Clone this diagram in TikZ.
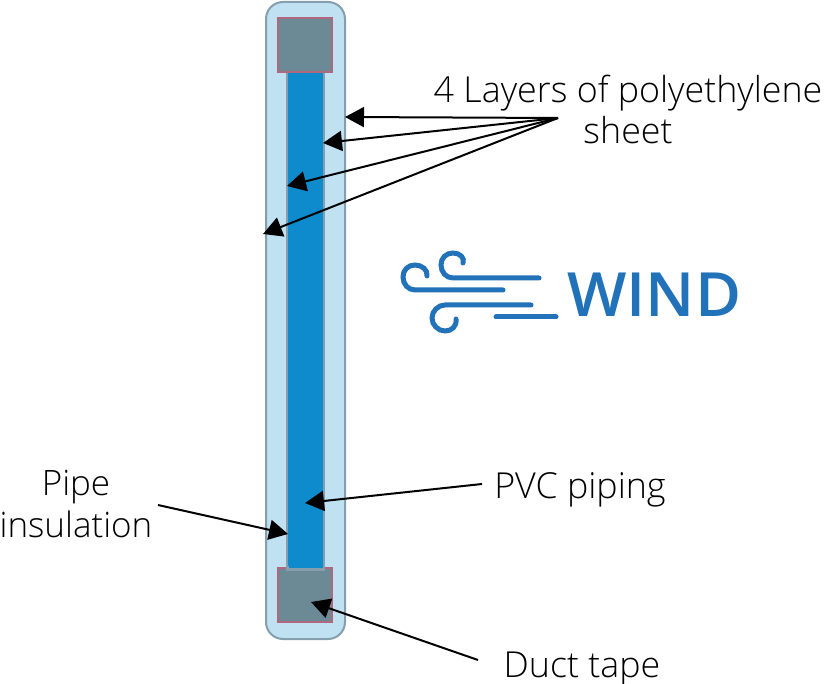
\documentclass[tikz,border=0pt]{standalone}
\usepackage{fontspec}
\setmainfont{Open Sans Light}
\usetikzlibrary{arrows.meta}
\definecolor{sheetfill}{HTML}{BFE1F2}
\definecolor{sheetline}{HTML}{859FAE}
\definecolor{pipefill}{HTML}{0D8BCD}
\definecolor{tapefill}{HTML}{6B8A96}
\definecolor{tapeline}{HTML}{B0687F}
\definecolor{windblue}{HTML}{2272B9}
\tikzset{
  sheet/.style={draw=sheetline,fill=sheetfill,line width=2pt,rounded corners=17pt},
  pipe/.style={draw=sheetline,fill=pipefill,line width=2.5pt},
  tape/.style={draw=tapeline,fill=tapefill,line width=2pt},
  lbl/.style={font=\fontsize{35.8}{41}\selectfont,text=black,inner sep=0pt,align=center},
  lblsmall/.style={font=\fontsize{35}{41}\selectfont,text=black,inner sep=0pt,align=center},
  pointer/.style={draw=black,line width=2pt,-{Triangle[length=19pt,width=20pt]}},
  gust/.style={draw=windblue,line width=5pt,line cap=round}
}
\begin{document}
\begin{tikzpicture}[x=1pt,y=-1pt]
\useasboundingbox (0,0) rectangle (828,684);
\draw[sheet] (266,2) rectangle (345,639);
\draw[pipe] (287,70) rectangle (324,570);
\draw[tape] (278,18) rectangle (332,72);
\draw[tape] (278,568) rectangle (332,622);
\fill[sheetline] (285.75,566) rectangle (325.25,571.25);
\fill[pipefill] (288.5,564) rectangle (322.5,568.5);
% logo
\draw[gust] (539,278) -- (453,278) .. controls (446,278) and (441,272) .. (441,265) .. controls (441,258) and (446,253) .. (453,253) .. controls (460,253) and (465,258) .. (463,263);
\draw[gust] (503,290) -- (415,290) .. controls (408,290) and (403,284) .. (403,277) .. controls (403,270) and (408,265) .. (415,265) .. controls (422,265) and (428,270) .. (427,276);
\draw[gust] (531,305) -- (445,305) .. controls (438,305) and (432,311) .. (432,318) .. controls (432,325) and (438,331) .. (445,331) .. controls (452,331) and (457,326) .. (456,319);
\draw[gust] (496,317) -- (556,317);
\node[font=\fontsize{61}{61}\selectfont\bfseries,text=windblue,inner sep=0pt,anchor=base west,xscale=1.03] (wind) at (567,317) {WIND};
% labels
\node[lbl,anchor=base] (layers) at (628,103) {4 Layers of polyethylene};
\node[lbl,anchor=base] (sheetlbl) at (628,144) {sheet};
\node[lblsmall,anchor=base] (pipelbl) at (76,496) {Pipe};
\node[lblsmall,anchor=base] (insul) at (76,538) {insulation};
\node[lbl,anchor=base] (pvc) at (580,499) {PVC piping};
\node[lbl,anchor=base] (duct) at (582,677) {Duct tape};
% connector ends
\coordinate (fan) at (558,118);
\coordinate (t1) at (345,117);
\coordinate (t2) at (323,143);
\coordinate (t3) at (287,186);
\coordinate (t4) at (263,234);
\coordinate (insfrom) at (158,505);
\coordinate (instip) at (288,534);
\coordinate (pvcfrom) at (482,484);
\coordinate (pvctip) at (305,503);
\coordinate (ductfrom) at (478,660);
\coordinate (ducttip) at (311,602);
\draw[pointer] (fan) -- (t1);
\draw[pointer] (fan) -- (t2);
\draw[pointer] (fan) -- (t3);
\draw[pointer] (fan) -- (t4);
\draw[pointer] (insfrom) -- (instip);
\draw[pointer] (pvcfrom) -- (pvctip);
\draw[pointer] (ductfrom) -- (ducttip);
\end{tikzpicture}
\end{document}
